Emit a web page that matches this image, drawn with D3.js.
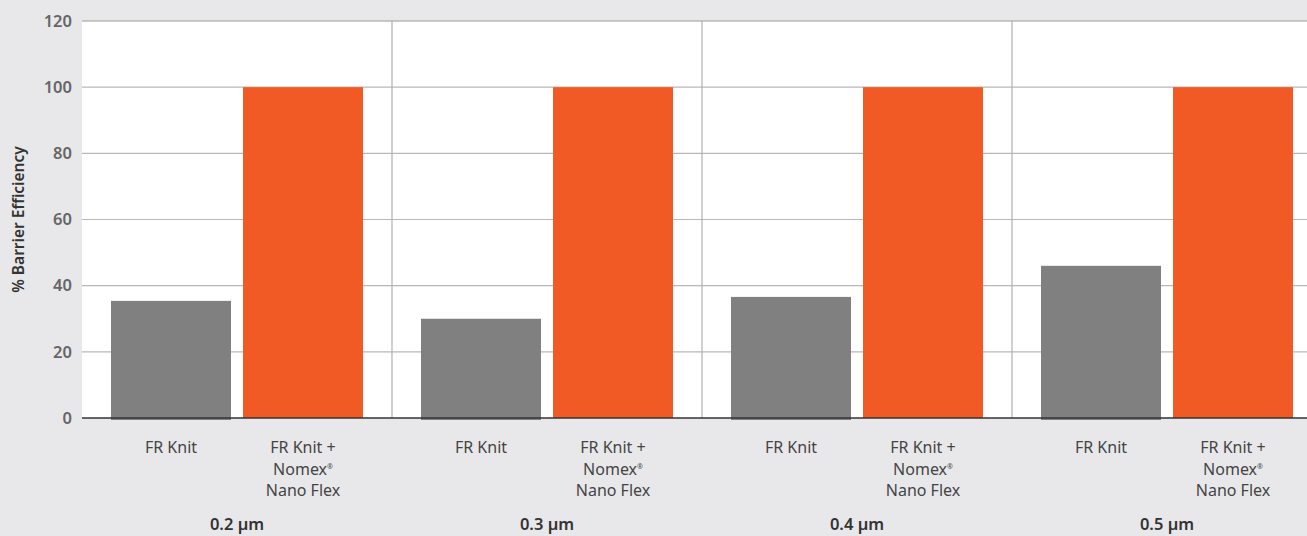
<!DOCTYPE html>
<html>
<head>
<meta charset="utf-8">
<script src="https://cdn.jsdelivr.net/npm/d3@7"></script>
<style>
  html, body { margin: 0; padding: 0; background: #e8e8ea; }
  svg { display: block; }
  text { font-family: "Noto Sans", "Open Sans", sans-serif; }
</style>
</head>
<body>
<svg id="chart" width="1307" height="536"></svg>
<script>
const groups = ["0.2 µm", "0.3 µm", "0.4 µm", "0.5 µm"];
const series = ["FR Knit", "FR Knit + Nomex Nano Flex"];
const frKnit = [35.4, 30, 36.6, 46];
const nomex = [100, 100, 100, 100];
const yTicks = [0, 20, 40, 60, 80, 100, 120];
const seriesLabels = [["FR Knit"], ["FR Knit +", "Nomex®", "Nano Flex"]];
const colors = ["#808081", "#f15a24"];

const data = groups.map((g, i) => ({ group: g, values: [frKnit[i], nomex[i]] }));

const svg = d3.select("#chart");
const W = 1307, H = 536;
const mLeft = 82, mRight = 1322, mTop = 21, mBottom = 418;

svg.append("rect").attr("width", W).attr("height", H).attr("fill", "#e8e8ea");

const x0 = d3.scaleBand().domain(groups).range([mLeft, mRight]).paddingInner(0).paddingOuter(0);
const x1 = d3.scaleBand().domain(series).range([0, x0.bandwidth()]).paddingInner(12 / 132).paddingOuter(0.2197);
const y = d3.scaleLinear().domain([0, 120]).range([mBottom, mTop]);

// plot background
svg.append("rect").attr("x", mLeft).attr("y", y(120)).attr("width", mRight - mLeft).attr("height", y(0) - y(120)).attr("fill", "#ffffff");

// horizontal grid
svg.append("g").selectAll("line").data(yTicks.filter(t => t > 0)).join("line")
  .attr("x1", mLeft).attr("x2", mRight)
  .attr("y1", d => y(d)).attr("y2", d => y(d))
  .attr("stroke", d => d === 120 ? "#9a9a9a" : "#b8b8b8").attr("stroke-width", 1.2);

// vertical dividers
svg.append("g").selectAll("line").data(groups.slice(1)).join("line")
  .attr("x1", d => x0(d)).attr("x2", d => x0(d))
  .attr("y1", y(120)).attr("y2", y(0))
  .attr("stroke", "#b0b0b0").attr("stroke-width", 1.2);

// bars
const gGroups = svg.append("g").selectAll("g").data(data).join("g")
  .attr("transform", d => `translate(${x0(d.group)},0)`);

gGroups.selectAll("rect").data(d => d.values.map((v, i) => ({ key: series[i], v, i }))).join("rect")
  .attr("x", d => x1(d.key))
  .attr("width", x1.bandwidth())
  .attr("y", d => y(d.v))
  .attr("height", d => y(0) - y(d.v) + (d.i === 0 ? 2 : 0))
  .attr("fill", d => colors[d.i]);

// x axis line
svg.append("line").attr("x1", mLeft).attr("x2", mRight).attr("y1", y(0)).attr("y2", y(0))
  .attr("stroke", "#333").attr("stroke-width", 1.5);

// y axis ticks
const yAxis = d3.axisLeft(y).tickValues(yTicks).tickSize(0).tickPadding(10);
const ya = svg.append("g").attr("transform", `translate(${mLeft},0)`).call(yAxis);
ya.select(".domain").remove();
ya.selectAll("text").attr("font-size", 16.5).attr("font-weight", 600).attr("fill", "#666")
  .style("font-family", '"Noto Sans", "Open Sans", sans-serif');

// y title
svg.append("text")
  .attr("transform", `translate(24, ${(y(0) + y(120)) / 2}) rotate(-90)`)
  .attr("text-anchor", "middle")
  .attr("font-size", 15.5).attr("font-weight", 600).attr("fill", "#333")
  .text("% Barrier Efficiency");

// series labels
gGroups.each(function(d) {
  const g = d3.select(this);
  series.forEach((s, i) => {
    const cx = x1(s) + x1.bandwidth() / 2;
    const t = g.append("text").attr("text-anchor", "middle").attr("font-size", 16).attr("fill", "#444");
    seriesLabels[i].forEach((line, j) => {
      const ts = t.append("tspan").attr("x", cx).attr("y", 453 + j * 21.5);
      if (line.endsWith("®")) {
        ts.text(line.slice(0, -1));
        ts.append("tspan").attr("font-size", 7).attr("dy", -6).text("®");
      } else {
        ts.text(line);
      }
    });
  });
  g.append("text").attr("x", x0.bandwidth() / 2).attr("y", 530)
    .attr("text-anchor", "middle").attr("font-size", 16.5).attr("font-weight", 600).attr("fill", "#333")
    .text(d.group);
});
</script>
</body>
</html>
